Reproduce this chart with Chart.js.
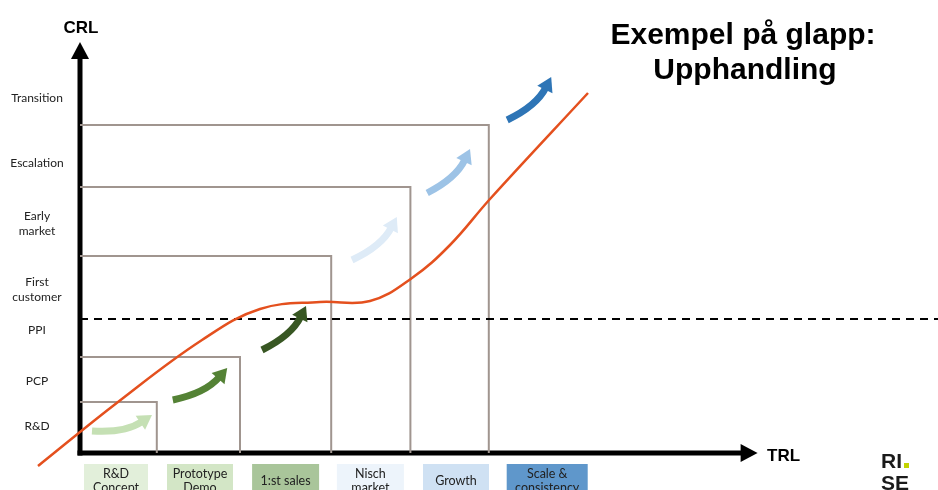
<!DOCTYPE html>
<html>
<head>
<meta charset="utf-8">
<script src="https://cdn.jsdelivr.net/npm/chart.js@4"></script>
<style>
  body { margin: 0; background: #fff; }
  #wrap { position: relative; width: 938px; height: 490px; overflow: hidden; }
</style>
</head>
<body>
<div id="wrap"><canvas id="myChart" width="938" height="490"></canvas></div>
<script>
// TRL stages along the bottom, CRL levels up the left side
const trlStages = [["R&D", "Concept"], ["Prototype", "Demo"], ["1:st sales"], ["Nisch", "market"], ["Growth"], ["Scale &", "consistency"]];
const trlTickPos = [0.45, 1.5, 2.57, 3.63, 4.7, 5.84];
const crlLevels = [["R&D"], ["PCP"], ["PPI"], ["First", "customer"], ["Early", "market"], ["Escalation"], ["Transition"]];
const crlTickPos = [0.54, 1.44, 2.46, 3.27, 4.59, 5.8, 7.1];

// nested boxes: right edge (TRL) and top (CRL)
const gapBoxRight = [0.96, 2.0, 3.14, 4.13, 5.11];
const gapBoxTop = [1.02, 1.92, 3.94, 5.32, 6.56];
const ppiLevel = 2.68;

// red curve
const curveX = [-0.525, 0.475, 1.525, 2.25, 3.0, 3.625, 4.15, 4.625, 5.125, 6.35];
const curveY = [-0.26, 1.02, 2.26, 2.88, 3.02, 3.04, 3.5, 4.16, 5.08, 7.2];

// step arrows (start -> tip)
const arrowFromX = [0.15, 1.16, 2.275, 3.4, 4.34, 5.34];
const arrowFromY = [0.44, 1.06, 2.06, 3.86, 5.2, 6.66];
const arrowToX = [0.9, 1.84, 2.825, 3.96, 4.875, 5.89];
const arrowToY = [0.76, 1.7, 2.94, 4.72, 6.08, 7.52];

const arrowColors = ["#c5e0b4", "#548235", "#385723", "#deebf7", "#9dc3e6", "#2e75b6"];
const stageColors = ["#e2efda", "#d3e6c6", "#a9c59a", "#edf4fb", "#cfe1f3", "#5f97cb"];
const stageBoxW = [64, 66, 67, 67, 66, 81];
const boxGray = "#a0958f";

const datasets = [{
  data: curveX.map(function (x, i) { return { x: x, y: curveY[i] }; }),
  borderColor: "#e4501e",
  borderWidth: 2.5,
  tension: 0.4,
  pointRadius: 0,
  clip: false
}, {
  data: [{ x: 0, y: ppiLevel }, { x: 10.8, y: ppiLevel }],
  borderColor: "#000",
  borderWidth: 1.8,
  borderDash: [8, 6],
  pointRadius: 0
}];
gapBoxRight.forEach(function (r, i) {
  datasets.push({
    data: [{ x: 0, y: gapBoxTop[i] }, { x: r, y: gapBoxTop[i] }, { x: r, y: 0 }],
    borderColor: boxGray,
    borderWidth: 2,
    pointRadius: 0
  });
});

function drawArrow(ctx, x0, y0, x1, y1, color) {
  const dx = x1 - x0, dy = y1 - y0;
  // bend towards lower right
  const cx = (x0 + x1) / 2 - dy * 0.17, cy = (y0 + y1) / 2 + dx * 0.17;
  let ux = x1 - cx, uy = y1 - cy;
  const ul = Math.hypot(ux, uy);
  ux /= ul; uy /= ul;
  const bx = x1 - ux * 14, by = y1 - uy * 14;
  ctx.strokeStyle = color;
  ctx.fillStyle = color;
  ctx.lineWidth = 7;
  ctx.beginPath();
  ctx.moveTo(x0, y0);
  ctx.quadraticCurveTo(cx, cy, bx + ux * 2, by + uy * 2);
  ctx.stroke();
  ctx.beginPath();
  ctx.moveTo(x1, y1);
  ctx.lineTo(bx - uy * 8.5, by + ux * 8.5);
  ctx.lineTo(bx + uy * 8.5, by - ux * 8.5);
  ctx.closePath();
  ctx.fill();
}

const diagram = {
  id: "diagram",
  beforeDatasetsDraw(chart) {
    const ctx = chart.ctx, x = chart.scales.x, y = chart.scales.y;
    const ox = x.getPixelForValue(0), oy = y.getPixelForValue(0);
    const yTip = y.getPixelForValue(8.22), xTip = x.getPixelForValue(8.47);
    ctx.save();
    ctx.strokeStyle = "#000";
    ctx.fillStyle = "#000";
    ctx.lineWidth = 5;
    ctx.beginPath();
    ctx.moveTo(ox, oy + 2.5);
    ctx.lineTo(ox, yTip + 14);
    ctx.stroke();
    ctx.beginPath();
    ctx.moveTo(ox - 2.5, oy);
    ctx.lineTo(xTip - 14, oy);
    ctx.stroke();
    ctx.beginPath();
    ctx.moveTo(ox, yTip);
    ctx.lineTo(ox - 9, yTip + 17);
    ctx.lineTo(ox + 9, yTip + 17);
    ctx.closePath();
    ctx.fill();
    ctx.beginPath();
    ctx.moveTo(xTip, oy);
    ctx.lineTo(xTip - 17, oy - 9);
    ctx.lineTo(xTip - 17, oy + 9);
    ctx.closePath();
    ctx.fill();
    ctx.restore();
  },
  afterDatasetsDraw(chart) {
    const ctx = chart.ctx, x = chart.scales.x, y = chart.scales.y;
    ctx.save();
    arrowColors.forEach(function (c, i) {
      drawArrow(ctx, x.getPixelForValue(arrowFromX[i]), y.getPixelForValue(arrowFromY[i]),
        x.getPixelForValue(arrowToX[i]), y.getPixelForValue(arrowToY[i]), c);
    });
    ctx.restore();
  },
  afterDraw(chart) {
    const ctx = chart.ctx, x = chart.scales.x, y = chart.scales.y;
    ctx.save();
    ctx.textAlign = "center";
    ctx.textBaseline = "middle";
    ctx.fillStyle = "#222";
    // CRL labels
    ctx.font = "12px Lato";
    crlLevels.forEach(function (lines, i) {
      const py = y.getPixelForValue(crlTickPos[i]);
      lines.forEach(function (t, k) {
        ctx.fillText(t, 37, py + (k - (lines.length - 1) / 2) * 15);
      });
    });
    // TRL stage boxes
    const top = y.getPixelForValue(-0.22);
    trlStages.forEach(function (lines, i) {
      const px = x.getPixelForValue(trlTickPos[i]);
      ctx.fillStyle = stageColors[i];
      ctx.fillRect(px - stageBoxW[i] / 2, top, stageBoxW[i], 40);
      ctx.fillStyle = "#222";
      ctx.font = "12.5px Lato";
      if (lines.length === 1) {
        ctx.fillText(lines[0], px, top + 17);
      } else {
        ctx.fillText(lines[0], px, top + 10);
        ctx.fillText(lines[1], px, top + 24);
      }
    });
    // axis names
    ctx.fillStyle = "#000";
    ctx.font = "bold 17px 'Liberation Sans'";
    ctx.fillText("CRL", 81, 28);
    ctx.textAlign = "left";
    ctx.fillText("TRL", 767, 456);
    // title
    ctx.textAlign = "center";
    ctx.textBaseline = "alphabetic";
    ctx.font = "bold 30px 'Liberation Sans'";
    ctx.fillText("Exempel på glapp:", 743, 44);
    ctx.fillText("Upphandling", 745, 79);
    // logo
    ctx.textAlign = "left";
    ctx.fillStyle = "#1a1a1a";
    ctx.font = "bold 21px 'Liberation Sans'";
    ctx.fillText("RI", 881, 468);
    ctx.fillText("SE", 881, 490);
    ctx.fillStyle = "#c3d400";
    ctx.fillRect(904, 463, 5, 5);
    ctx.restore();
  }
};

new Chart("myChart", {
  type: "line",
  data: { datasets: datasets },
  options: {
    responsive: false,
    animation: false,
    events: [],
    layout: { padding: 0 },
    elements: { line: { tension: 0 } },
    scales: {
      x: { type: "linear", min: -1, max: 10.725, display: false },
      y: { type: "linear", min: -0.74, max: 9.06, display: false }
    },
    plugins: { legend: { display: false }, tooltip: { enabled: false } }
  },
  plugins: [diagram]
});
</script>
</body>
</html>
